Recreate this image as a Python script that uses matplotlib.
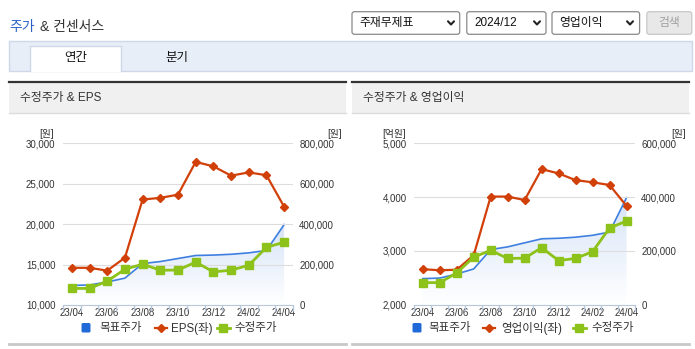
import matplotlib
matplotlib.use("Agg")
import matplotlib.pyplot as plt
import numpy as np
from matplotlib.patches import Rectangle, FancyBboxPatch
from matplotlib.colors import LinearSegmentedColormap

plt.rcParams['font.family'] = ['Liberation Sans', 'Noto Sans CJK KR', 'DejaVu Sans']

# --- data ---
months = ['23/04', '23/05', '23/06', '23/07', '23/08', '23/09', '23/10',
          '23/11', '23/12', '24/01', '24/02', '24/03', '24/04']
price = [82000, 82000, 118000, 177000, 202000, 172000, 173000,
         212000, 164000, 172000, 197000, 285000, 311000]
target = [97000, 99000, 114000, 133000, 205000, 215000, 230000,
          245000, 247000, 251000, 258000, 270000, 398000]
eps = [14600, 14600, 14250, 15850, 23050, 23250, 23650,
       27700, 27150, 26000, 26400, 26050, 22150]
op_profit = [2660, 2640, 2650, 2920, 4010, 4010, 3945,
             4520, 4440, 4315, 4275, 4225, 3835]

RED = '#d2400a'
GREEN = '#8cc21a'
BLUE = '#3f7fe0'
AXC = '#b8c7da'
TXT = '#333333'

W, H = 695, 349
fig = plt.figure(figsize=(W / 100, H / 100), dpi=100)
bg = fig.add_axes([0, 0, 1, 1])
bg.set_xlim(0, W)
bg.set_ylim(H, 0)
bg.axis('off')
bg.set_zorder(0)


def box(x0, y0, x1, y1):
    return [x0 / W, 1 - y1 / H, (x1 - x0) / W, (y1 - y0) / H]


# page header
bg.text(9.5, 26.5, '주가', color='#2e62c9', fontsize=10, va='center')
bg.text(40.5, 26.5, '& 컨센서스', color=TXT, fontsize=10, va='center')

selects = [(352, 459.7, '주재무제표', 451), (466.8, 546, '2024/12', 537),
           (552, 639.6, '영업이익', 630)]
for x0, x1, label, cx in selects:
    bg.add_patch(FancyBboxPatch((x0, 11.7), x1 - x0, 22.6,
                                boxstyle='round,pad=0,rounding_size=2.5',
                                fc='white', ec='#8a8a8a', lw=0.9))
    bg.text(x0 + 7.5, 23, label, fontsize=8.5, va='center', color='#111')
    bg.plot([cx - 3, cx, cx + 3], [21.3, 24.5, 21.3], color='#222', lw=1.5,
            solid_capstyle='round')
bg.add_patch(FancyBboxPatch((646.8, 11.7), 45, 22.6,
                            boxstyle='round,pad=0,rounding_size=2.5',
                            fc='#e8e8e8', ec='#c8c8c8', lw=0.9))
bg.text(669.3, 23, '검색', fontsize=8.5, va='center', ha='center', color='#a0a0a0')

# tabs
bg.add_patch(Rectangle((8.9, 41), 682.9, 29.7, fc='#e8eef8', ec='#cfd8e8', lw=1))
bg.add_patch(Rectangle((29.8, 46.3), 91.2, 25.2, fc='white', ec='none'))
bg.plot([29.8, 29.8, 121, 121], [71, 46.3, 46.3, 71], color='#cfd8e8', lw=1)
bg.text(75.4, 58.5, '연간', fontsize=9, ha='center', va='center', color='#111')
bg.text(176.8, 58.5, '분기', fontsize=9, ha='center', va='center', color='#111')

# panel frames
for px0, px1, title in [(9, 346, '수정주가 & EPS'), (352.3, 689, '수정주가 & 영업이익')]:
    bg.add_patch(Rectangle((px0, 82), px1 - px0, 31.3, fc='#f0f0f0', ec='none'))
    bg.plot([px0, px1], [82, 82], color='#333333', lw=1.6)
    bg.plot([px0, px1], [113.3, 113.3], color='#dcdcdc', lw=1)
    bg.text(px0 + 11, 98.3, title, fontsize=8.5, va='center', color=TXT)
    bg.plot([px0, px1], [344.3, 344.3], color='#c8c8c8', lw=2)

cmap = LinearSegmentedColormap.from_list('fade', ['#ffffff', '#d6e4f7'])
x = np.arange(len(months))


def chart(x0, x1, y0, y1, left_vals, lmin, lmax, lstep, rmax, rstep):
    ax = fig.add_axes(box(x0, y0, x1, y1))
    ax2 = ax.twinx()
    ax3 = fig.add_axes(box(x0, y0, x1, y1), sharex=ax, sharey=ax2)
    ax2.set_zorder(1)
    ax.set_zorder(2)
    ax3.set_zorder(3)
    ax.patch.set_visible(False)
    ax3.patch.set_visible(False)
    ax3.axis('off')

    # target price area
    poly = ax2.fill_between(x, target, 0, color='none', lw=0)
    grad = np.linspace(0, 1, 256).reshape(-1, 1)
    im = ax2.imshow(grad, extent=[-0.5, 12.5, 0, max(target)], origin='lower',
                    aspect='auto', cmap=cmap, zorder=1)
    im.set_clip_path(poly.get_paths()[0], transform=ax2.transData)
    ax2.plot(x, target, color=BLUE, lw=1.2, zorder=2)

    ax.plot(x, left_vals, color=RED, lw=1.6, marker='D', ms=4.4, zorder=3)
    ax3.plot(x, price, color=GREEN, lw=2, marker='s', ms=5.6)

    ax.set_xlim(-0.5, 12.5)
    ax.set_ylim(lmin, lmax)
    ax2.set_ylim(0, rmax)
    lt = np.arange(lmin, lmax + 1, lstep)
    ax.set_yticks(lt)
    ax.set_yticklabels([f'{v:,}' for v in lt])
    rt = np.arange(0, rmax + 1, rstep)
    ax2.set_yticks(rt)
    ax2.set_yticklabels([f'{v:,}' for v in rt])
    ax.tick_params(axis='y', length=0, pad=5.5, labelsize=7, labelcolor=TXT)
    ax2.tick_params(axis='y', length=0, pad=4.5, labelsize=7, labelcolor=TXT)
    ax.grid(axis='y', color='#dddddd', lw=0.8)
    ax.set_axisbelow(True)

    ax.set_xticks(x[::2])
    ax.set_xticklabels(months[::2])
    ax.set_xticks(np.arange(-0.5, 13, 1), minor=True)
    ax.tick_params(axis='x', which='major', length=0, pad=2.5, labelsize=7,
                   labelcolor=TXT)
    ax.tick_params(axis='x', which='minor', length=4, color=AXC, width=1)
    for a in (ax, ax2):
        for s in a.spines.values():
            s.set_visible(False)
    ax.spines['bottom'].set_visible(True)
    ax.spines['bottom'].set_color(AXC)
    return ax


chart(63, 293, 143.3, 305, eps, 10000, 30000, 5000, 800000, 200000)
chart(414.3, 635, 143.3, 304.7, op_profit, 2000, 5000, 1000, 600000, 200000)

# axis unit labels
for cx, u in [(46.3, '[원]'), (334.8, '[원]'), (394, '[억원]'), (678.3, '[원]')]:
    bg.text(cx, 134, u, fontsize=7, ha='center', va='center', color=TXT)

# legends
for sq, red_x, green_x, t1, t2, t3, lbl in [
        (86, 161, 223, 99.3, 171.3, 234.3, 'EPS(좌)'),
        (417, 489.3, 579, 428.7, 501, 591, '영업이익(좌)')]:
    ly = 328
    bg.add_patch(FancyBboxPatch((sq - 4.5, ly - 5), 9, 9.5,
                                boxstyle='round,pad=0,rounding_size=1.5',
                                fc='#1f6ad8', ec='none'))
    bg.text(t1, ly + 0.5, '목표주가', fontsize=8.3, va='center', color=TXT)
    bg.plot([red_x - 6, red_x + 6], [ly, ly], color=RED, lw=1.6)
    bg.plot([red_x], [ly], marker='D', ms=4.4, color=RED)
    bg.text(t2, ly + 0.5, lbl, fontsize=8.3, va='center', color=TXT)
    bg.plot([green_x - 6.5, green_x + 6.5], [ly, ly], color=GREEN, lw=2)
    bg.plot([green_x], [ly], marker='s', ms=5.6, color=GREEN)
    bg.text(t3, ly + 0.5, '수정주가', fontsize=8.3, va='center', color=TXT)

fig.savefig('out.png', dpi=100)
